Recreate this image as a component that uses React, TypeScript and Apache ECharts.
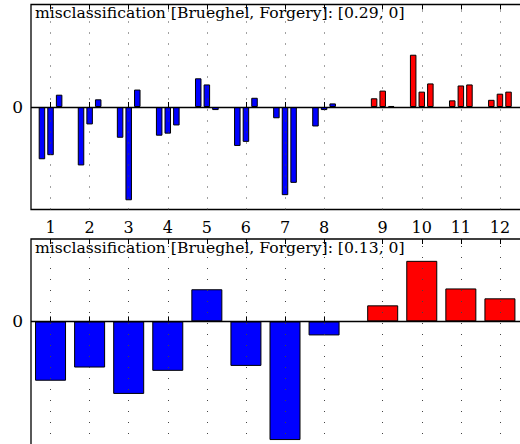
import React, { useEffect, useRef } from "react";
import * as echarts from "echarts";

// ---- data ----
const tickLabels = ["1", "2", "3", "4", "5", "6", "7", "8", "9", "10", "11", "12"];
const positions = [1, 2, 3, 4, 5, 6, 7, 8, 9.5, 10.5, 11.5, 12.5];
const groupClass = ["Brueghel", "Brueghel", "Brueghel", "Brueghel", "Brueghel", "Brueghel", "Brueghel", "Brueghel", "Forgery", "Forgery", "Forgery", "Forgery"];
const topBarA = [-0.51, -0.57, -0.30, -0.28, 0.28, -0.38, -0.11, -0.19, 0.085, 0.51, 0.065, 0.07];
const topBarB = [-0.47, -0.17, -0.91, -0.26, 0.22, -0.34, -0.86, -0.03, 0.16, 0.15, 0.21, 0.13];
const topBarC = [0.12, 0.075, 0.17, -0.18, -0.03, 0.09, -0.74, 0.035, 0.01, 0.23, 0.22, 0.15];
const bottomBars = [-0.72, -0.56, -0.88, -0.60, 0.39, -0.54, -1.44, -0.17, 0.195, 0.735, 0.40, 0.28];
const topTitle = "misclassification [Brueghel, Forgery]: [0.29, 0]";
const bottomTitle = "misclassification [Brueghel, Forgery]: [0.13, 0]";
const yZeroLabel = [0];

const classColor: Record<string, string> = { Brueghel: "#0000ff", Forgery: "#ff0000" };
const subOffsets = [-0.22, 0, 0.22];
const FONT = "DejaVu Serif";

export default function App() {
  const ref = useRef<HTMLDivElement>(null);
  useEffect(() => {
    if (!ref.current) return;
    const chart = echarts.init(ref.current, null, { renderer: "svg" });
    const xMin = 0.5;
    const xMax = 13.5;

    const topData: any[] = [];
    [topBarA, topBarB, topBarC].forEach((arr, k) => {
      arr.forEach((v, i) => {
        topData.push({
          value: [positions[i] + subOffsets[k], v],
          itemStyle: { color: classColor[groupClass[i]] },
        });
      });
    });
    const bottomData = bottomBars.map((v, i) => ({
      value: [positions[i], v],
      itemStyle: { color: classColor[groupClass[i]] },
    }));

    const mkX = (gi: number, showLabels: boolean) => ({
      type: "value",
      gridIndex: gi,
      position: "bottom",
      min: xMin,
      max: xMax,
      axisLine: { show: false },
      splitLine: { show: false },
      axisTick: {
        show: true,
        inside: true,
        length: 5,
        customValues: positions,
        lineStyle: { color: "#000", width: 1 },
      },
      axisLabel: {
        show: showLabels,
        customValues: positions,
        margin: 10,
        fontFamily: FONT,
        fontSize: 16,
        color: "#000",
        formatter: (v: number) => {
          const idx = positions.findIndex((p) => Math.abs(p - v) < 1e-6);
          return idx >= 0 ? tickLabels[idx] : "";
        },
      },
    });
    const mkXTop = (gi: number) => ({
      type: "value",
      gridIndex: gi,
      position: "top",
      min: xMin,
      max: xMax,
      axisLine: { show: false },
      splitLine: { show: false },
      axisLabel: { show: false },
      axisTick: {
        show: true,
        inside: true,
        length: 5,
        customValues: positions,
        lineStyle: { color: "#000", width: 1 },
      },
    });
    const mkY = (gi: number, min: number, max: number) => ({
      type: "value",
      gridIndex: gi,
      min,
      max,
      axisLine: { show: false },
      axisTick: { show: false },
      splitLine: { show: false },
      axisLabel: {
        customValues: yZeroLabel,
        margin: 8,
        fontFamily: FONT,
        fontSize: 17,
        color: "#000",
        formatter: (v: number) => String(v),
      },
    });

    const gridMarks = (xi: number, yi: number) => ({
      type: "scatter",
      xAxisIndex: xi,
      yAxisIndex: yi,
      data: [],
      z: 1,
      silent: true,
      markLine: {
        silent: true,
        symbol: "none",
        label: { show: false },
        lineStyle: { type: [1, 10], color: "#444", width: 1 },
        data: positions.map((p) => ({ xAxis: p })),
      },
    });
    const barSeries = (xi: number, yi: number, data: any[], width: number) => ({
      type: "bar",
      xAxisIndex: xi,
      yAxisIndex: yi,
      data,
      barWidth: width,
      z: 3,
      itemStyle: { borderColor: "#000", borderWidth: 1 },
      markLine: {
        silent: true,
        symbol: "none",
        label: { show: false },
        lineStyle: { type: "solid", color: "#000", width: 1.3 },
        data: [{ yAxis: 0 }],
      },
    });

    chart.setOption({
      animation: false,
      backgroundColor: "#fff",
      title: [
        {
          text: topTitle,
          left: 35,
          top: 5,
          padding: 0,
          textStyle: { fontFamily: FONT, fontSize: 15.6, fontWeight: "normal", color: "#000" },
        },
        {
          text: bottomTitle,
          left: 35,
          top: 240,
          padding: 0,
          textStyle: { fontFamily: FONT, fontSize: 15.6, fontWeight: "normal", color: "#000" },
        },
      ],
      grid: [
        { left: 31, top: 4.5, width: 508, height: 205, show: true, borderColor: "#000", borderWidth: 1.3, backgroundColor: "transparent" },
        { left: 31, top: 239, width: 508, height: 206, show: true, borderColor: "#000", borderWidth: 1.3, backgroundColor: "transparent" },
      ],
      xAxis: [mkX(0, true), mkXTop(0), mkX(1, false), mkXTop(1)],
      yAxis: [mkY(0, -1, 1), mkY(1, -1.5, 1)],
      series: [
        gridMarks(0, 0),
        barSeries(0, 0, topData, 6.5),
        gridMarks(2, 1),
        barSeries(2, 1, bottomData, 31),
      ],
    });
    return () => chart.dispose();
  }, []);

  return (
    <div style={{ position: "absolute", left: 0, top: 0, width: 520, height: 444, overflow: "hidden", background: "#fff" }}>
      <div ref={ref} style={{ width: 600, height: 480 }} />
    </div>
  );
}
